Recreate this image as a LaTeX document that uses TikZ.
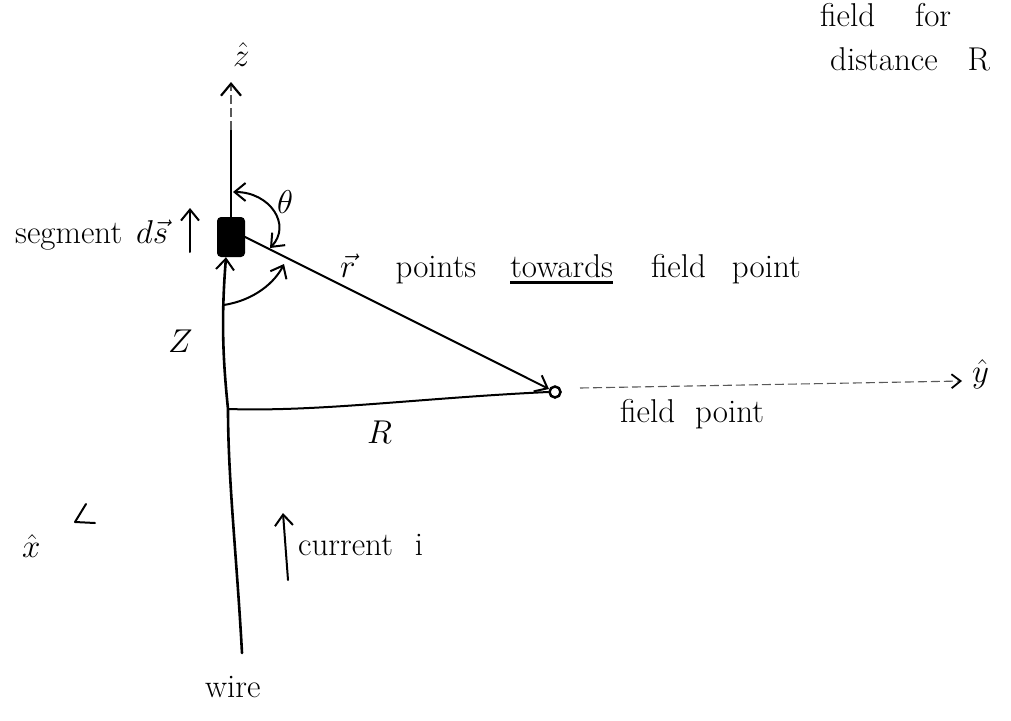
\RequirePackage{fix-cm}
\documentclass[tikz,border=0pt]{standalone}
\usetikzlibrary{arrows.meta}
\begin{document}
\begin{tikzpicture}[x=1pt,y=-1pt,
  txt/.style={font=\fontsize{33}{40}\selectfont, inner sep=0pt, anchor=base west},
  ln/.style={line width=2pt, line cap=round, line join=round},
  tip/.style={-{Straight Barb[length=11pt,width=18pt,line width=2pt]}},
  btip/.style={{Straight Barb[length=11pt,width=18pt,line width=2pt]}-{Straight Barb[length=11pt,width=18pt,line width=2pt]}},
  axdash/.style={line width=1.1pt, dash pattern=on 9pt off 4pt, black!65},
]
\useasboundingbox (0,0) rectangle (1011,720);
\clip (0,0) rectangle (1011,720);

% nodes and coordinates
\node[fill=black, rounded corners=4pt, minimum width=28pt, minimum height=40pt, inner sep=0pt] (seg) at (231,237) {};
\node[draw, circle, line width=2.5pt, fill=white, minimum size=11pt, inner sep=0pt] (fp) at (555,392) {};
\coordinate (wb) at (242,653);
\coordinate (j) at (228,409);
\coordinate (zs) at (231,130);
\coordinate (zt) at (231,82);
\coordinate (ys) at (580,388);
\coordinate (yt) at (962,381);
\coordinate (ta) at (233,192);
\coordinate (tb) at (270,248);
\coordinate (la) at (224,305);
\coordinate (lb) at (284,264);
\coordinate (dsa) at (190,252);
\coordinate (dsb) at (190,208);
\coordinate (ca) at (288,580);
\coordinate (cb) at (283,513);
\coordinate (xa) at (86,504);
\coordinate (xb) at (75,522);
\coordinate (xc) at (95,523);

% wire (current direction up into segment)
\draw[ln, line width=2.6pt, tip] (wb) .. controls (237,560) and (228,480) .. (j)
   .. controls (223,360) and (221,320) .. ([xshift=-5pt]seg.south);
% z axis above the segment
\draw[ln, line width=2.4pt] (seg.north) -- (zs);
\draw[axdash, -{Straight Barb[length=12pt,width=20pt,line width=2.2pt,color=black]}] (zs) -- (zt);
% r vector
\draw[ln, tip] (seg.east) -- (fp);
% R distance
\draw[ln] (j) .. controls (320,412) and (420,398) .. (fp.west);
% y axis
\draw[axdash, -{Straight Barb[length=9pt,width=14pt,line width=1.8pt,color=black]}] (ys) -- (yt);
% theta arc
\draw[ln, btip] (ta) .. controls (270,192) and (292,225) .. (tb);
% complementary angle arc
\draw[ln, tip] (la) .. controls (255,300) and (275,282) .. (lb);
% ds arrow and current arrow
\draw[ln, tip] (dsa) -- (dsb);
\draw[ln, tip] (ca) -- (cb);
% x axis tip (pointing out of the page)
\draw[ln] (xa) -- (xb) -- (xc);

% labels
\node[txt] (lz) at (233,66) {$\hat{z}$};
\node[txt] (ly) at (972,382) {$\hat{y}$};
\node[txt] (lx) at (22,557) {$\hat{x}$};
\node[txt] (lth) at (277,213) {$\theta$};
\node[txt] (lZ) at (168,352) {$Z$};
\node[txt] (lR) at (367,443) {$R$};
\node[txt] (lseg) at (15,243) {segment\hspace{14pt}$d\vec{s}$};
\node[txt] (lr) at (340,277) {$\vec{r}$\hspace{40pt}points\hspace{34pt}\vtop{\hbox{towards}\kern4pt\hrule height 2.5pt}\hspace{38pt}field\hspace{26pt}point};
\node[txt] (lfp) at (620,422) {field\hspace{20pt}point};
\node[txt] (lcur) at (298,555) {current\hspace{22pt}i};
\node[txt] (lwire) at (205,697) {wire};
\node[txt] (lt1) at (820,26) {field\hspace{40pt}for};
\node[txt] (lt2) at (830,70) {distance\hspace{30pt}R};
\end{tikzpicture}
\end{document}
